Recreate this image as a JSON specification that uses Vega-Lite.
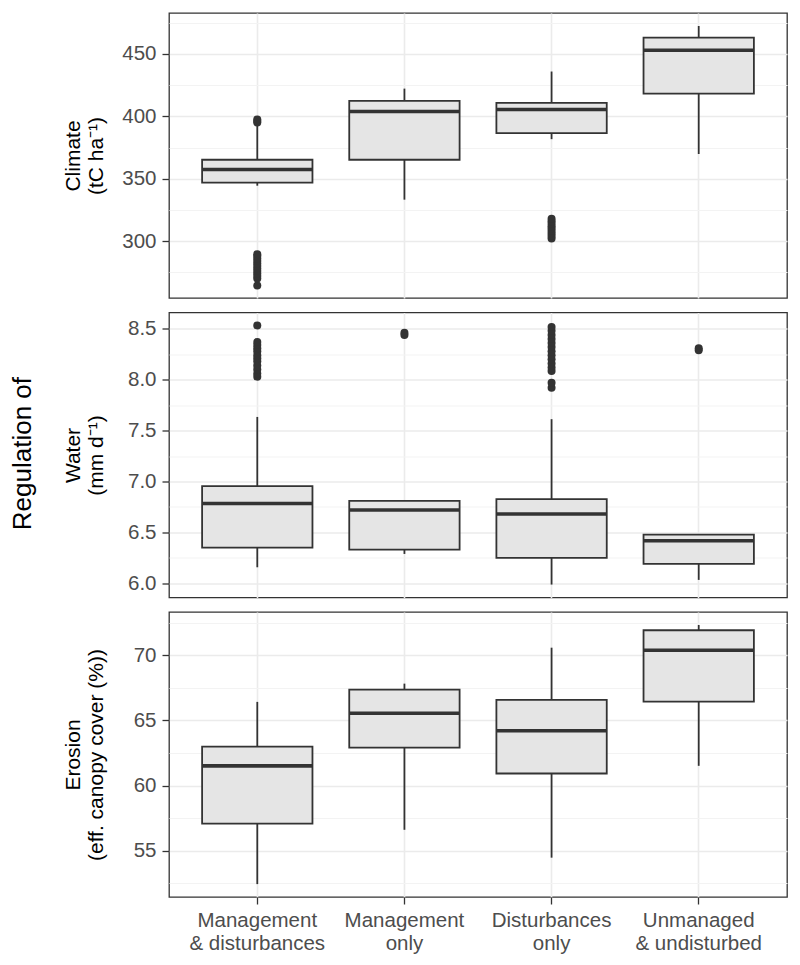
{
  "$schema": "https://vega.github.io/schema/vega-lite/v6.json",
  "background": "white",
  "padding": {"left": 9, "top": 12, "right": 12, "bottom": 5},
  "title": {"text": "Regulation of", "orient": "left", "anchor": "middle", "fontSize": 26, "font": "Liberation Sans", "fontWeight": "normal", "color": "#000000", "offset": 26, "dx": 30},
  "datasets": {
    "boxes": [
      {"panel": "Climate", "group": "Management|& disturbances", "lower": 344.4, "q1": 346.8, "median": 357.4, "q3": 365.2, "upper": 393},
      {"panel": "Climate", "group": "Management|only", "lower": 333.2, "q1": 365.2, "median": 403.9, "q3": 412.4, "upper": 422.2},
      {"panel": "Climate", "group": "Disturbances|only", "lower": 381.7, "q1": 386.5, "median": 405.5, "q3": 410.8, "upper": 435.9},
      {"panel": "Climate", "group": "Unmanaged|& undisturbed", "lower": 369.8, "q1": 418.2, "median": 452.9, "q3": 463, "upper": 472.4},
      {"panel": "Water", "group": "Management|& disturbances", "lower": 6.157, "q1": 6.35, "median": 6.784, "q3": 6.955, "upper": 7.634},
      {"panel": "Water", "group": "Management|only", "lower": 6.288, "q1": 6.33, "median": 6.72, "q3": 6.81, "upper": 6.81},
      {"panel": "Water", "group": "Disturbances|only", "lower": 5.987, "q1": 6.249, "median": 6.68, "q3": 6.827, "upper": 7.612},
      {"panel": "Water", "group": "Unmanaged|& undisturbed", "lower": 6.033, "q1": 6.19, "median": 6.418, "q3": 6.477, "upper": 6.477},
      {"panel": "Erosion", "group": "Management|& disturbances", "lower": 52.43, "q1": 57.07, "median": 61.51, "q3": 62.99, "upper": 66.42},
      {"panel": "Erosion", "group": "Management|only", "lower": 56.6, "q1": 62.91, "median": 65.55, "q3": 67.36, "upper": 67.82},
      {"panel": "Erosion", "group": "Disturbances|only", "lower": 54.46, "q1": 60.92, "median": 64.2, "q3": 66.57, "upper": 70.58},
      {"panel": "Erosion", "group": "Unmanaged|& undisturbed", "lower": 61.51, "q1": 66.44, "median": 70.38, "q3": 71.92, "upper": 72.32}
    ],
    "outliers": [
      {"panel": "Climate", "group": "Management|& disturbances", "value": 395},
      {"panel": "Climate", "group": "Management|& disturbances", "value": 396.2},
      {"panel": "Climate", "group": "Management|& disturbances", "value": 397.5},
      {"panel": "Climate", "group": "Management|& disturbances", "value": 264.4},
      {"panel": "Climate", "group": "Management|& disturbances", "value": 270},
      {"panel": "Climate", "group": "Management|& disturbances", "value": 272},
      {"panel": "Climate", "group": "Management|& disturbances", "value": 274},
      {"panel": "Climate", "group": "Management|& disturbances", "value": 276},
      {"panel": "Climate", "group": "Management|& disturbances", "value": 278},
      {"panel": "Climate", "group": "Management|& disturbances", "value": 280},
      {"panel": "Climate", "group": "Management|& disturbances", "value": 282},
      {"panel": "Climate", "group": "Management|& disturbances", "value": 284},
      {"panel": "Climate", "group": "Management|& disturbances", "value": 286},
      {"panel": "Climate", "group": "Management|& disturbances", "value": 288},
      {"panel": "Climate", "group": "Management|& disturbances", "value": 289.5},
      {"panel": "Climate", "group": "Disturbances|only", "value": 302},
      {"panel": "Climate", "group": "Disturbances|only", "value": 304},
      {"panel": "Climate", "group": "Disturbances|only", "value": 306},
      {"panel": "Climate", "group": "Disturbances|only", "value": 308},
      {"panel": "Climate", "group": "Disturbances|only", "value": 310},
      {"panel": "Climate", "group": "Disturbances|only", "value": 312},
      {"panel": "Climate", "group": "Disturbances|only", "value": 314},
      {"panel": "Climate", "group": "Disturbances|only", "value": 316},
      {"panel": "Climate", "group": "Disturbances|only", "value": 318},
      {"panel": "Water", "group": "Management|& disturbances", "value": 8.533},
      {"panel": "Water", "group": "Management|& disturbances", "value": 8.03},
      {"panel": "Water", "group": "Management|& disturbances", "value": 8.06},
      {"panel": "Water", "group": "Management|& disturbances", "value": 8.1},
      {"panel": "Water", "group": "Management|& disturbances", "value": 8.14},
      {"panel": "Water", "group": "Management|& disturbances", "value": 8.18},
      {"panel": "Water", "group": "Management|& disturbances", "value": 8.21},
      {"panel": "Water", "group": "Management|& disturbances", "value": 8.24},
      {"panel": "Water", "group": "Management|& disturbances", "value": 8.28},
      {"panel": "Water", "group": "Management|& disturbances", "value": 8.31},
      {"panel": "Water", "group": "Management|& disturbances", "value": 8.34},
      {"panel": "Water", "group": "Management|& disturbances", "value": 8.37},
      {"panel": "Water", "group": "Management|only", "value": 8.44},
      {"panel": "Water", "group": "Management|only", "value": 8.46},
      {"panel": "Water", "group": "Disturbances|only", "value": 7.92},
      {"panel": "Water", "group": "Disturbances|only", "value": 7.97},
      {"panel": "Water", "group": "Disturbances|only", "value": 8.085},
      {"panel": "Water", "group": "Disturbances|only", "value": 8.12},
      {"panel": "Water", "group": "Disturbances|only", "value": 8.16},
      {"panel": "Water", "group": "Disturbances|only", "value": 8.2},
      {"panel": "Water", "group": "Disturbances|only", "value": 8.24},
      {"panel": "Water", "group": "Disturbances|only", "value": 8.28},
      {"panel": "Water", "group": "Disturbances|only", "value": 8.32},
      {"panel": "Water", "group": "Disturbances|only", "value": 8.36},
      {"panel": "Water", "group": "Disturbances|only", "value": 8.4},
      {"panel": "Water", "group": "Disturbances|only", "value": 8.44},
      {"panel": "Water", "group": "Disturbances|only", "value": 8.48},
      {"panel": "Water", "group": "Disturbances|only", "value": 8.517},
      {"panel": "Water", "group": "Unmanaged|& undisturbed", "value": 8.29},
      {"panel": "Water", "group": "Unmanaged|& undisturbed", "value": 8.31}
    ]
  },
  "spacing": 12.5,
  "vconcat": [
    {
      "width": 618, "height": 285,
      "resolve": {"axis": {"y": "independent"}},
      "layer": [
        {
          "data": {"name": "boxes"},
          "transform": [{"filter": "datum.panel === 'Climate'"}],
          "mark": {"type": "rule", "color": "#333333", "strokeWidth": 1.8},
          "encoding": {
            "x": {"field": "group", "type": "nominal", "scale": {"domain": ["Management|& disturbances", "Management|only", "Disturbances|only", "Unmanaged|& undisturbed"], "paddingInner": 0.25, "paddingOuter": 0.225}, "axis": {"labels": false, "ticks": false, "domain": false, "title": null, "grid": true, "bandPosition": 0.5}},
            "y": {"field": "lower", "type": "quantitative", "title": ["Climate", "(tC ha⁻¹)"], "scale": {"domain": [254.4, 482.8], "nice": false, "zero": false},
              "axis": {"orient": "left", "values": [300, 350, 400, 450], "format": "d", "grid": true}},
            "y2": {"field": "upper"}
          }
        },
        {
          "data": {"name": "boxes"},
          "transform": [{"filter": "datum.panel === 'Climate'"}],
          "mark": {"type": "bar", "fill": "#E5E5E5", "stroke": "#333333", "strokeWidth": 1.8},
          "encoding": {
            "x": {"field": "group", "type": "nominal"},
            "y": {"field": "q1", "type": "quantitative", "axis": {"orient": "left", "values": [275, 325, 375, 425, 475], "labels": false, "ticks": false, "domain": false, "title": null, "grid": true, "gridColor": "#F3F3F3", "gridWidth": 1, "minExtent": 0, "maxExtent": 0, "zindex": 0}},
            "y2": {"field": "q3"}
          }
        },
        {
          "data": {"name": "boxes"},
          "transform": [{"filter": "datum.panel === 'Climate'"}],
          "mark": {"type": "tick", "color": "#333333", "size": 110.4, "thickness": 3.6, "opacity": 1},
          "encoding": {
            "x": {"field": "group", "type": "nominal"},
            "y": {"field": "median", "type": "quantitative", "axis": null}
          }
        },
        {
          "data": {"name": "outliers"},
          "transform": [{"filter": "datum.panel === 'Climate'"}],
          "mark": {"type": "point", "filled": true, "color": "#333333", "size": 64, "opacity": 1},
          "encoding": {
            "x": {"field": "group", "type": "nominal"},
            "y": {"field": "value", "type": "quantitative", "axis": null}
          }
        }
      ]
    },
    {
      "width": 618, "height": 285,
      "resolve": {"axis": {"y": "independent"}},
      "layer": [
        {
          "data": {"name": "boxes"},
          "transform": [{"filter": "datum.panel === 'Water'"}],
          "mark": {"type": "rule", "color": "#333333", "strokeWidth": 1.8},
          "encoding": {
            "x": {"field": "group", "type": "nominal", "scale": {"domain": ["Management|& disturbances", "Management|only", "Disturbances|only", "Unmanaged|& undisturbed"], "paddingInner": 0.25, "paddingOuter": 0.225}, "axis": {"labels": false, "ticks": false, "domain": false, "title": null, "grid": true, "bandPosition": 0.5}},
            "y": {"field": "lower", "type": "quantitative", "title": ["Water", "(mm d⁻¹)"], "scale": {"domain": [5.86, 8.66], "nice": false, "zero": false},
              "axis": {"orient": "left", "values": [6, 6.5, 7, 7.5, 8, 8.5], "format": ".1f", "grid": true}},
            "y2": {"field": "upper"}
          }
        },
        {
          "data": {"name": "boxes"},
          "transform": [{"filter": "datum.panel === 'Water'"}],
          "mark": {"type": "bar", "fill": "#E5E5E5", "stroke": "#333333", "strokeWidth": 1.8},
          "encoding": {
            "x": {"field": "group", "type": "nominal"},
            "y": {"field": "q1", "type": "quantitative", "axis": {"orient": "left", "values": [6.25, 6.75, 7.25, 7.75, 8.25], "labels": false, "ticks": false, "domain": false, "title": null, "grid": true, "gridColor": "#F3F3F3", "gridWidth": 1, "minExtent": 0, "maxExtent": 0, "zindex": 0}},
            "y2": {"field": "q3"}
          }
        },
        {
          "data": {"name": "boxes"},
          "transform": [{"filter": "datum.panel === 'Water'"}],
          "mark": {"type": "tick", "color": "#333333", "size": 110.4, "thickness": 3.6, "opacity": 1},
          "encoding": {
            "x": {"field": "group", "type": "nominal"},
            "y": {"field": "median", "type": "quantitative", "axis": null}
          }
        },
        {
          "data": {"name": "outliers"},
          "transform": [{"filter": "datum.panel === 'Water'"}],
          "mark": {"type": "point", "filled": true, "color": "#333333", "size": 64, "opacity": 1},
          "encoding": {
            "x": {"field": "group", "type": "nominal"},
            "y": {"field": "value", "type": "quantitative", "axis": null}
          }
        }
      ]
    },
    {
      "width": 618, "height": 285,
      "resolve": {"axis": {"y": "independent"}},
      "layer": [
        {
          "data": {"name": "boxes"},
          "transform": [{"filter": "datum.panel === 'Erosion'"}],
          "mark": {"type": "rule", "color": "#333333", "strokeWidth": 1.8},
          "encoding": {
            "x": {"field": "group", "type": "nominal", "scale": {"domain": ["Management|& disturbances", "Management|only", "Disturbances|only", "Unmanaged|& undisturbed"], "paddingInner": 0.25, "paddingOuter": 0.225}, "axis": {"labels": true, "ticks": true, "domain": false, "title": null, "grid": true, "bandPosition": 0.5, "labelAngle": 0, "labelAlign": "center", "labelBaseline": "top", "labelExpr": "split(datum.label, '|')", "labelLineHeight": 23.7}},
            "y": {"field": "lower", "type": "quantitative", "title": ["Erosion", "(eff. canopy cover (%))"], "scale": {"domain": [51.44, 73.32], "nice": false, "zero": false},
              "axis": {"orient": "left", "values": [55, 60, 65, 70], "format": "d", "grid": true}},
            "y2": {"field": "upper"}
          }
        },
        {
          "data": {"name": "boxes"},
          "transform": [{"filter": "datum.panel === 'Erosion'"}],
          "mark": {"type": "bar", "fill": "#E5E5E5", "stroke": "#333333", "strokeWidth": 1.8},
          "encoding": {
            "x": {"field": "group", "type": "nominal"},
            "y": {"field": "q1", "type": "quantitative", "axis": {"orient": "left", "values": [52.5, 57.5, 62.5, 67.5, 72.5], "labels": false, "ticks": false, "domain": false, "title": null, "grid": true, "gridColor": "#F3F3F3", "gridWidth": 1, "minExtent": 0, "maxExtent": 0, "zindex": 0}},
            "y2": {"field": "q3"}
          }
        },
        {
          "data": {"name": "boxes"},
          "transform": [{"filter": "datum.panel === 'Erosion'"}],
          "mark": {"type": "tick", "color": "#333333", "size": 110.4, "thickness": 3.6, "opacity": 1},
          "encoding": {
            "x": {"field": "group", "type": "nominal"},
            "y": {"field": "median", "type": "quantitative", "axis": null}
          }
        }
      ]
    }
  ],
  "config": {
    "view": {"stroke": "#333333", "strokeWidth": 1.3},
    "axis": {
      "labelFont": "Liberation Sans", "labelFontSize": 20.5, "labelColor": "#4D4D4D", "labelOverlap": false,
      "titleFont": "Liberation Sans", "titleFontSize": 21, "titleColor": "#000000", "titleFontWeight": "normal", "titleLineHeight": 22.5,
      "tickColor": "#333333", "tickSize": 7, "tickWidth": 1.3, "labelPadding": 6,
      "gridColor": "#EBEBEB", "gridWidth": 1.6, "domain": false
    },
    "axisY": {"minExtent": 47, "maxExtent": 47, "titlePadding": 16}
  }
}
